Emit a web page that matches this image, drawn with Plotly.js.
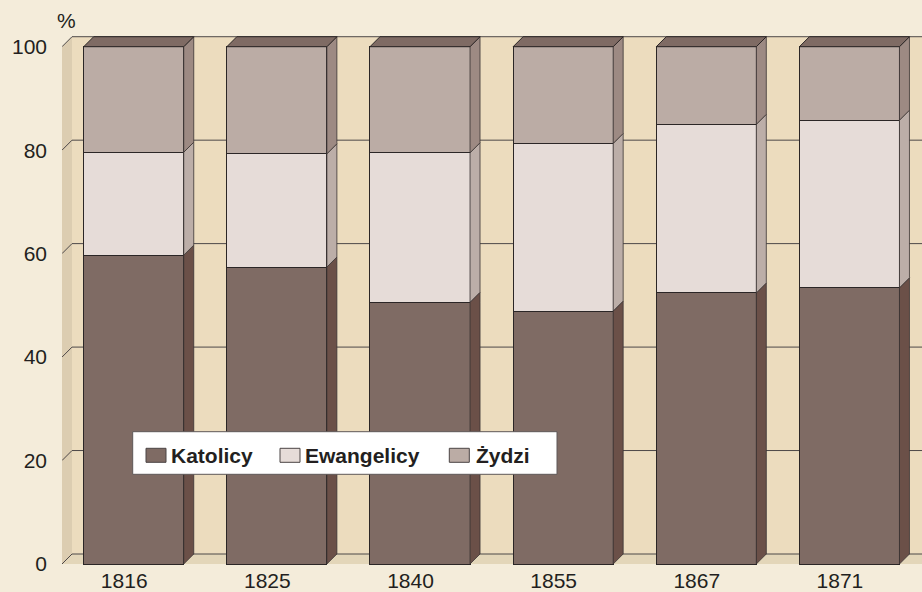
<!DOCTYPE html>
<html>
<head>
<meta charset="utf-8">
<script src="https://cdn.plot.ly/plotly-3.0.1.min.js"></script>
<style>
  html, body { margin: 0; padding: 0; background: #f4ecda; }
  #chart { width: 922px; height: 592px; }
</style>
</head>
<body>
<div id="chart"></div>
<script>
// ---- data ----
const years = ['1816', '1825', '1840', '1855', '1867', '1871'];
const katolicy = [59.7, 57.4, 50.6, 48.9, 52.4, 53.4];
const ewangelicy = [19.9, 21.9, 28.9, 32.4, 32.6, 32.4];
const zydzi = [20.4, 20.7, 20.5, 18.7, 15.0, 14.2];
const yTicks = [0, 20, 40, 60, 80, 100];
const seriesNames = ['Katolicy', 'Ewangelicy', 'Żydzi'];

// ---- styling / geometry ----
const FRONT = ['#7f6b64', '#e6dcd8', '#bbaca5'];
const SIDE = ['#6b5048', '#bcaea8', '#9d8a83'];
const TOP = '#7f6b64';
const EDGE = '#2b2626';
const BAR_W = 0.699;
const M = { l: 62, r: 0, t: 30, b: 26 };
const W = 922, H = 592;
const PLOT_W = W - M.l - M.r, PLOT_H = H - M.t - M.b;
const X_RANGE = [-0.501, 5.507];
const Y_RANGE = [-0.387, 103.23];
const DX = 10 / (PLOT_W / (X_RANGE[1] - X_RANGE[0]));   // depth in x units
const DY = 10 / (PLOT_H / (Y_RANGE[1] - Y_RANGE[0]));   // depth in y units
const X0 = X_RANGE[0], X1 = X_RANGE[1] + 0.05;
const FONT = 'Liberation Sans, Arial, Helvetica, sans-serif';
const px2x = p => (p - M.l) / PLOT_W;
const px2y = p => (H - M.b - p) / PLOT_H;

const xs = years.map((_, i) => i);
const series = [katolicy, ewangelicy, zydzi];

const traces = [];
// front faces
series.forEach((vals, s) => {
  traces.push({
    type: 'bar', name: seriesNames[s], x: xs, y: vals, width: BAR_W,
    marker: { color: FRONT[s], line: { color: EDGE, width: 1 } },
    hoverinfo: 'name+y', showlegend: false
  });
});
// side faces
const cum = xs.map(() => 0);
series.forEach((vals, s) => {
  const px = [], py = [];
  vals.forEach((v, i) => {
    const xr = xs[i] + BAR_W / 2;
    const y0 = cum[i], y1 = cum[i] + v;
    px.push(xr, xr + DX, xr + DX, xr, xr, null);
    py.push(y0, y0 + DY, y1 + DY, y1, y0, null);
    cum[i] = y1;
  });
  traces.push({
    type: 'scatter', mode: 'lines', x: px, y: py, fill: 'toself',
    fillcolor: SIDE[s], line: { color: '#3a3333', width: 0.8 },
    showlegend: false, hoverinfo: 'skip'
  });
});
// top faces
{
  const px = [], py = [];
  xs.forEach((x, i) => {
    const xl = x - BAR_W / 2, xr = x + BAR_W / 2, t = cum[i];
    px.push(xl, xl + DX, xr + DX, xr, xl, null);
    py.push(t, t + DY, t + DY, t, t, null);
  });
  traces.push({
    type: 'scatter', mode: 'lines', x: px, y: py, fill: 'toself',
    fillcolor: TOP, line: { color: EDGE, width: 1 },
    showlegend: false, hoverinfo: 'skip'
  });
}

// walls and gridlines
const shapes = [
  { type: 'rect', xref: 'x', yref: 'y', x0: X0 + DX, x1: X1, y0: DY, y1: 100 + DY,
    fillcolor: '#ecdcbe', line: { width: 0 }, layer: 'below' },
  { type: 'path', xref: 'x', yref: 'y',
    path: `M${X0},0 L${X0 + DX},${DY} L${X0 + DX},${100 + DY} L${X0},100 Z`,
    fillcolor: '#dccdb1', line: { width: 0 }, layer: 'below' },
  { type: 'path', xref: 'x', yref: 'y',
    path: `M${X0},0 L${X0 + DX},${DY} L${X1},${DY} L${X1},0 Z`,
    fillcolor: '#e3d6b9', line: { width: 0 }, layer: 'below' }
];
yTicks.forEach(t => {
  shapes.push({
    type: 'path', xref: 'x', yref: 'y',
    path: `M${X0},${t} L${X0 + DX},${t + DY} L${X1},${t + DY}`,
    line: { color: '#4d4848', width: 1 }, layer: 'below'
  });
});

// legend (drawn as shapes + text)
const LEG_BOX = { x0: 132.7, x1: 557, y0: 431.7, y1: 474.3 };
const LEG_SWATCH_X = [146, 280, 449.3];
const LEG_TEXT_X = [171, 305, 475.7];
const annotations = [];
shapes.push({
  type: 'rect', xref: 'paper', yref: 'paper',
  x0: px2x(LEG_BOX.x0), x1: px2x(LEG_BOX.x1), y0: px2y(LEG_BOX.y1), y1: px2y(LEG_BOX.y0),
  fillcolor: '#ffffff', line: { color: '#5e5858', width: 1 }, layer: 'above'
});
seriesNames.forEach((name, s) => {
  shapes.push({
    type: 'rect', xref: 'paper', yref: 'paper',
    x0: px2x(LEG_SWATCH_X[s]), x1: px2x(LEG_SWATCH_X[s] + 20),
    y0: px2y(462.3), y1: px2y(448.3),
    fillcolor: FRONT[s], line: { color: '#4a4444', width: 1 }, layer: 'above'
  });
  annotations.push({
    xref: 'paper', yref: 'paper', x: px2x(LEG_TEXT_X[s] - 2), y: px2y(455),
    text: '<b>' + name + '</b>', showarrow: false, xanchor: 'left', yanchor: 'middle',
    font: { family: FONT, size: 21, color: '#231f20' }
  });
});
annotations.push({
  xref: 'paper', yref: 'paper', x: px2x(66), y: px2y(21),
  text: '%', showarrow: false, xanchor: 'center', yanchor: 'middle',
  font: { family: FONT, size: 21, color: '#231f20' }
});

const layout = {
  width: W, height: H,
  margin: M,
  paper_bgcolor: '#f4ecda', plot_bgcolor: 'rgba(0,0,0,0)',
  barmode: 'stack',
  showlegend: false,
  font: { family: FONT, color: '#231f20', size: 21 },
  xaxis: {
    range: X_RANGE, showgrid: false, zeroline: false, showline: false,
    tickmode: 'array', tickvals: xs.map(x => x - 9.5 / 143.1), ticktext: years,
    ticks: '', ticklabelstandoff: 0, tickfont: { size: 21, family: FONT, color: '#231f20' },
    fixedrange: true
  },
  yaxis: {
    range: Y_RANGE, showgrid: false, zeroline: false, showline: false,
    tickmode: 'array', tickvals: yTicks, ticktext: yTicks.map(String),
    ticks: '', ticklabelstandoff: 14, tickfont: { size: 21, family: FONT, color: '#231f20' },
    fixedrange: true
  },
  shapes: shapes,
  annotations: annotations
};

Plotly.newPlot('chart', traces, layout, { displayModeBar: false, staticPlot: true });
</script>
</body>
</html>
